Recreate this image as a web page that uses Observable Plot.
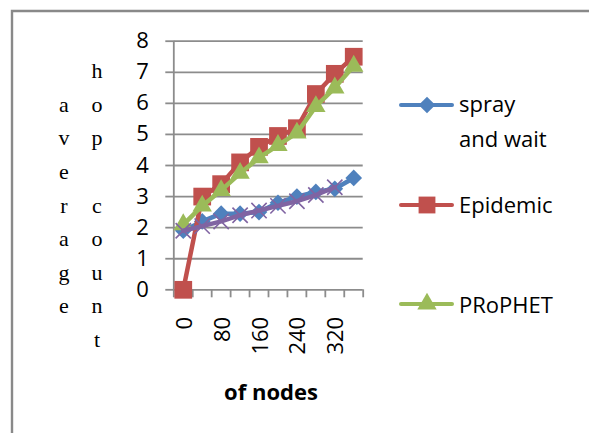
<!DOCTYPE html>
<html>
<head>
<meta charset="utf-8">
<script src="https://cdn.jsdelivr.net/npm/d3@7"></script>
<script src="https://cdn.jsdelivr.net/npm/@observablehq/plot@0.6"></script>
<style>
  html, body { margin: 0; padding: 0; background: #fff; }
  #chart { position: relative; width: 589px; height: 433px; overflow: hidden; }
</style>
</head>
<body>
<div id="chart"></div>
<script>
// ---- data ----
const categories = ["0", "40", "80", "120", "160", "200", "240", "280", "320", "360"];
const xTickLabels = ["0", "80", "160", "240", "320"];
const yTicks = [0, 1, 2, 3, 4, 5, 6, 7, 8];
const sprayAndWait = [1.9, 2.2, 2.45, 2.45, 2.5, 2.8, 3.0, 3.15, 3.25, 3.6];
const epidemic = [0, 3.0, 3.4, 4.1, 4.6, 4.95, 5.2, 6.3, 6.95, 7.5];
const prophet = [2.1, 2.7, 3.2, 3.75, 4.25, 4.65, 5.05, 5.9, 6.5, 7.2];
const fourthSeries = [1.9, 2.05, 2.2, 2.4, 2.55, 2.7, 2.85, 3.05, 3.3, null];
const seriesNames = ["spray and wait", "Epidemic", "PRoPHET", "series 4"];
const colors = ["#4F81BD", "#C0504D", "#9BBB59", "#8064A2"];
const symbols = ["diamond2", "square", "triangle", "times"];
const yTitle1 = "average";
const yTitle2 = "hop count";
const xTitle = "of nodes";

const allSeries = [sprayAndWait, epidemic, prophet, fourthSeries];
const rows = s => s.map((v, i) => ({i: i + 0.5, cat: categories[i], v})).filter(d => d.v != null);

const gridColor = "#8c8c8c";
const marks = [
  Plot.ruleY(yTicks, {stroke: gridColor, strokeWidth: 1.8}),
  Plot.axisY({ticks: yTicks, label: null, tickSize: 8, tickPadding: 17, stroke: gridColor, strokeWidth: 1.8, fontSize: 22, fill: "#000"}),
  Plot.axisX({ticks: d3.range(11), label: null, tickSize: 8, tickFormat: () => "", stroke: gridColor, strokeWidth: 1.8}),
  Plot.ruleX([0], {y1: 0, y2: 8, stroke: gridColor, strokeWidth: 1.8}),
  Plot.text(xTickLabels, {x: d => categories.indexOf(d) + 0.5, y: 0, text: d => d, rotate: -90,
    textAnchor: "end", lineAnchor: "middle", dy: 27, dx: 1.5, fontSize: 22, fill: "#000"})
];
const sizes = [7.5, 10, 7.2, 7];
allSeries.forEach((s, k) => {
  const data = rows(s);
  marks.push(Plot.line(data, {x: "i", y: "v", stroke: colors[k], strokeWidth: 4.5, strokeLinejoin: "round"}));
  if (symbols[k] === "times") {
    marks.push(Plot.dot(data, {x: "i", y: "v", symbol: "times", r: sizes[k], stroke: colors[k], strokeWidth: 1.6}));
  } else {
    marks.push(Plot.dot(data, {x: "i", y: "v", symbol: symbols[k], r: sizes[k], fill: colors[k], stroke: "none"}));
  }
});

const chart = Plot.plot({
  width: 589, height: 433,
  marginLeft: 173.3, marginRight: 226.3, marginTop: 40.7, marginBottom: 143.7,
  x: {type: "linear", domain: [0, 10], axis: null, label: null},
  y: {domain: [0, 8], axis: null, label: null},
  style: {fontFamily: "Open Sans", fontSize: "22px", background: "transparent", color: "#000"},
  marks
});
document.getElementById("chart").appendChild(chart);

// ---- decorations: border, titles, legend ----
const svg = d3.select(chart);
const deco = svg.append("g").attr("text-anchor", "start");
deco.append("path").attr("d", "M12,433V11H589").attr("fill", "none").attr("stroke", "#898989").attr("stroke-width", 2.4);

// y title, letter per line
const lineH = 33.55, base0 = 78.3;
yTitle2.split("").forEach((ch, r) => {
  deco.append("text").attr("x", 97).attr("y", base0 + lineH * r).attr("text-anchor", "middle")
    .attr("font-family", "Liberation Serif").attr("font-size", 22).attr("fill", "#000").text(ch);
});
yTitle1.split("").forEach((ch, r) => {
  deco.append("text").attr("x", 64).attr("y", base0 + lineH * (r + 1)).attr("text-anchor", "middle")
    .attr("font-family", "Liberation Serif").attr("font-size", 22).attr("fill", "#000").text(ch);
});

// x title
deco.append("text").attr("x", 271).attr("y", 400).attr("text-anchor", "middle")
  .attr("font-family", "Open Sans").attr("font-weight", "bold").attr("font-size", 22).attr("fill", "#000").text(xTitle);

// legend
const legendEntries = [
  {k: 0, y: 105, lines: ["spray", "and wait"], base: 111.5},
  {k: 1, y: 205, lines: ["Epidemic"], base: 213.3},
  {k: 2, y: 304, lines: ["PRoPHET"], base: 313.3}
];
const d3sym = {diamond2: d3.symbolDiamond2, square: d3.symbolSquare, triangle: d3.symbolTriangle};
const legSizes = [7.5, 9.5, 7.2];
legendEntries.forEach(e => {
  const g = deco.append("g");
  g.append("line").attr("x1", 401).attr("x2", 452).attr("y1", e.y).attr("y2", e.y)
    .attr("stroke", colors[e.k]).attr("stroke-width", 4).attr("stroke-linecap", "round");
  g.append("path").attr("transform", `translate(427,${e.y})`)
    .attr("d", d3.symbol(d3sym[symbols[e.k]], Math.PI * legSizes[e.k] ** 2)())
    .attr("fill", colors[e.k]);
  e.lines.forEach((t, j) => {
    g.append("text").attr("x", 459).attr("y", e.base + 35.2 * j).attr("text-anchor", "start")
      .attr("font-family", "Open Sans").attr("font-size", 22).attr("fill", "#000").text(t);
  });
});
</script>
</body>
</html>
